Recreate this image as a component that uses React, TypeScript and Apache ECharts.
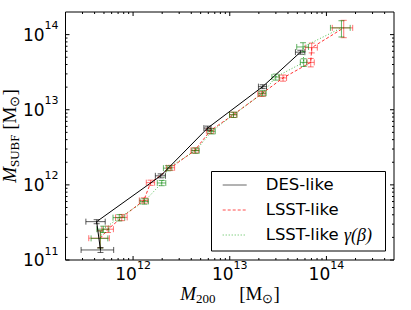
import React, { useEffect, useRef } from "react";
import * as echarts from "echarts";

// ---- data (masses in solar masses) ----
const desM200 = [4.6e11, 4.2e11, 1.93e12, 5.9e12, 2.19e13, 5.38e13];
const desM200Err = [1.7e11, 0.95e11, 0.23e12, 0.5e12, 0.21e13, 0.6e13];
const desMsubf = [1.36e11, 3.24e11, 1.32e12, 5.7e12, 2.03e13, 5.84e13];
const desMsubfErr = [0.1e11, 0.2e11, 0.08e12, 0.35e12, 0.12e13, 0.35e13];

const lsstM200 = [4.58e11, 5.51e11, 7.64e11, 1.29e12, 1.52e12, 2.45e12, 4.35e12, 6.28e12, 1.09e13, 2.14e13, 3.56e13, 6.88e13, 7.05e13, 1.51e14];
const lsstM200Err = [1.1e11, 0.75e11, 1.05e11, 0.13e12, 0.15e12, 0.24e12, 0.38e12, 0.55e12, 0.095e13, 0.19e13, 0.31e13, 0.6e13, 1.0e13, 0.36e14];
const lsstMsubf = [1.95e11, 2.57e11, 3.69e11, 6.21e11, 1.07e12, 1.69e12, 2.88e12, 5.25e12, 8.58e12, 1.63e13, 2.65e13, 4.27e13, 6.71e13, 1.23e14];
const lsstMsubfErr = [0.5e11, 0.25e11, 0.35e11, 0.5e11, 0.085e12, 0.13e12, 0.23e12, 0.42e12, 0.69e12, 0.13e13, 0.25e13, 0.55e13, 1.0e13, 0.32e14];

const gamM200 = [4.58e11, 4.92e11, 7.2e11, 1.31e12, 1.98e12, 2.29e12, 4.45e12, 6.51e12, 1.09e13, 2.19e13, 2.99e13, 5.82e13, 5.73e13, 1.43e14];
const gamM200Err = [0.9e11, 0.7e11, 1.0e11, 0.13e12, 0.2e12, 0.23e12, 0.39e12, 0.57e12, 0.095e13, 0.19e13, 0.26e13, 0.45e13, 0.8e13, 0.33e14];
const gamMsubf = [1.94e11, 2.57e11, 3.66e11, 6.03e11, 1.06e12, 1.67e12, 2.86e12, 5.17e12, 8.58e12, 1.66e13, 2.73e13, 4.27e13, 6.85e13, 1.23e14];
const gamMsubfErr = [0.5e11, 0.25e11, 0.35e11, 0.5e11, 0.085e12, 0.13e12, 0.23e12, 0.41e12, 0.69e12, 0.13e13, 0.25e13, 0.5e13, 0.95e13, 0.3e14];

const xRange = [2e11, 5e14];
const yRange = [1e11, 2e14];
const xMajorExp = [12, 13, 14];
const yMajorExp = [11, 12, 13, 14];

const legendNames = ["DES-like", "LSST-like", "LSST-like "];

const L = Math.log10;

function lineRows(xs: number[], ys: number[]) {
  return xs.map((x, i) => [L(x), L(ys[i])]);
}
function errRows(xs: number[], xe: number[], ys: number[], ye: number[]) {
  return xs.map((x, i) => [L(x), L(ys[i]), L(x - xe[i]), L(x + xe[i]), L(ys[i] - ye[i]), L(ys[i] + ye[i])]);
}
function minorTicks(lo: number, hi: number) {
  const out: number[] = [];
  for (let n = 10; n <= 15; n++) {
    for (let k = 2; k <= 9; k++) {
      const v = n + L(k);
      if (v > lo + 1e-9 && v < hi - 1e-9) out.push(v);
    }
  }
  return out;
}

const makeErrRender = (color: string, opacity: number) => (params: any, api: any) => {
  const x = api.value(0), y = api.value(1);
  const c = api.coord([x, y]);
  const l = api.coord([api.value(2), y]);
  const r = api.coord([api.value(3), y]);
  const b = api.coord([x, api.value(4)]);
  const t = api.coord([x, api.value(5)]);
  const cap = 3;
  const style = { stroke: color, lineWidth: 1, opacity };
  const seg = (x1: number, y1: number, x2: number, y2: number) => ({ type: "line", shape: { x1, y1, x2, y2 }, style });
  return {
    type: "group",
    children: [
      seg(l[0], c[1], r[0], c[1]),
      seg(l[0], c[1] - cap, l[0], c[1] + cap),
      seg(r[0], c[1] - cap, r[0], c[1] + cap),
      seg(c[0], b[1], c[0], t[1]),
      seg(c[0] - cap, b[1], c[0] + cap, b[1]),
      seg(c[0] - cap, t[1], c[0] + cap, t[1]),
    ],
  };
};

export default function App() {
  const ref = useRef<HTMLDivElement>(null);
  useEffect(() => {
    if (!ref.current) return;
    const chart = echarts.init(ref.current, null, { renderer: "svg" });
    const xMin = L(xRange[0]), xMax = L(xRange[1]);
    const yMin = L(yRange[0]), yMax = L(yRange[1]);

    const tickData: number[][] = [];
    xMajorExp.forEach((v) => tickData.push([v, yMin, 0, 4]));
    minorTicks(xMin, xMax).forEach((v) => tickData.push([v, yMin, 0, 2]));
    yMajorExp.forEach((v) => tickData.push([xMin, v, 1, 4]));
    minorTicks(yMin, yMax).forEach((v) => tickData.push([xMin, v, 1, 2]));

    const labelRich = {
      b: { fontFamily: "DejaVu Sans", fontSize: 17, lineHeight: 18, color: "#000" },
      p: { fontFamily: "DejaVu Sans", fontSize: 11, lineHeight: 12, color: "#000", padding: [0, 0, 18, 0] },
    };
    const fmt = (v: number) => `{b|10}{p|${Math.round(v)}}`;

    const titleRich = {
      i: { fontFamily: "Liberation Serif", fontStyle: "italic", fontSize: 19, lineHeight: 18, color: "#000" },
      n: { fontFamily: "Liberation Serif", fontSize: 19, lineHeight: 18, color: "#000" },
      s: { fontFamily: "Liberation Serif", fontSize: 13, lineHeight: 14, color: "#000", padding: [10, 0, 0, 0] },
    };

    const option: any = {
      animation: false,
      grid: { left: 65.5, top: 12, right: 17, bottom: 50, show: true, borderColor: "#000", borderWidth: 1, backgroundColor: "transparent" },
      xAxis: {
        type: "value", min: xMin, max: xMax,
        axisLine: { show: false }, axisTick: { show: false }, splitLine: { show: false },
        axisLabel: { customValues: xMajorExp, formatter: fmt, rich: labelRich, margin: 5 },
      },
      yAxis: {
        type: "value", min: yMin, max: yMax,
        axisLine: { show: false }, axisTick: { show: false }, splitLine: { show: false },
        axisLabel: { customValues: yMajorExp, formatter: fmt, rich: labelRich, margin: 7 },
      },
      series: [
        {
          type: "custom", name: "ticks", silent: true, data: tickData,
          renderItem: (params: any, api: any) => {
            const cs = params.coordSys;
            const kind = api.value(2), len = api.value(3);
            const style = { stroke: "#000", lineWidth: 1 };
            if (kind === 0) {
              const px = api.coord([api.value(0), yMin])[0];
              return { type: "group", children: [
                { type: "line", shape: { x1: px, y1: cs.y + cs.height, x2: px, y2: cs.y + cs.height - len }, style },
                { type: "line", shape: { x1: px, y1: cs.y, x2: px, y2: cs.y + len }, style },
              ] };
            }
            const py = api.coord([xMin, api.value(1)])[1];
            return { type: "group", children: [
              { type: "line", shape: { x1: cs.x, y1: py, x2: cs.x + len, y2: py }, style },
              { type: "line", shape: { x1: cs.x + cs.width, y1: py, x2: cs.x + cs.width - len, y2: py }, style },
            ] };
          },
        },
        { type: "custom", name: "LSST err", data: errRows(lsstM200, lsstM200Err, lsstMsubf, lsstMsubfErr), renderItem: makeErrRender("#ff0000", 0.55), z: 3 },
        { type: "line", name: legendNames[1], data: lineRows(lsstM200, lsstMsubf), symbol: "none", lineStyle: { color: "#ff0000", width: 1, type: [3, 2], opacity: 0.8 }, z: 4 },
        { type: "custom", name: "gamma err", data: errRows(gamM200, gamM200Err, gamMsubf, gamMsubfErr), renderItem: makeErrRender("#008000", 0.6), z: 5 },
        { type: "line", name: legendNames[2], data: lineRows(gamM200, gamMsubf), symbol: "none", lineStyle: { color: "#00a000", width: 1, type: [1, 2], opacity: 0.7 }, z: 6 },
        { type: "custom", name: "DES err", data: errRows(desM200, desM200Err, desMsubf, desMsubfErr), renderItem: makeErrRender("#000000", 0.65), z: 7 },
        { type: "line", name: legendNames[0], data: lineRows(desM200, desMsubf), symbol: "none", lineStyle: { color: "#000", width: 1 }, z: 8 },
      ],
      graphic: [
        { type: "rect", shape: { x: 211.5, y: 171.5, width: 174, height: 79.5 }, style: { fill: "#fff", stroke: "#000", lineWidth: 1 }, z: 100 },
        { type: "line", shape: { x1: 222.7, y1: 185, x2: 246.7, y2: 185 }, style: { stroke: "#000", lineWidth: 1, opacity: 0.6 }, z: 101 },
        { type: "line", shape: { x1: 222.7, y1: 210, x2: 246.7, y2: 210 }, style: { stroke: "#ff0000", lineWidth: 1, lineDash: [3, 2], opacity: 0.7 }, z: 101 },
        { type: "line", shape: { x1: 222.7, y1: 235, x2: 246.7, y2: 235 }, style: { stroke: "#00a000", lineWidth: 1, lineDash: [1, 2], opacity: 0.7 }, z: 101 },
        { type: "text", x: 265.7, y: 184.5, z: 101, style: { text: legendNames[0], fontFamily: "DejaVu Sans", fontSize: 16.5, fill: "#000", align: "left", verticalAlign: "middle" } },
        { type: "text", x: 265.7, y: 209.5, z: 101, style: { text: legendNames[1], fontFamily: "DejaVu Sans", fontSize: 16.5, fill: "#000", align: "left", verticalAlign: "middle" } },
        { type: "text", x: 265.7, y: 234.5, z: 101, style: {
          text: `{a|${legendNames[2]}}{m|γ(β)}`, align: "left", verticalAlign: "middle",
          rich: {
            a: { fontFamily: "DejaVu Sans", fontSize: 16.5, color: "#000" },
            m: { fontFamily: "Liberation Serif", fontStyle: "italic", fontSize: 18, color: "#000" },
          },
        } },
        { type: "text", x: 230, y: 293, z: 101, style: {
          text: "{i|M}{s|200}{n|     [M}{s|⊙}{n|]}", rich: titleRich, align: "center", verticalAlign: "middle",
        } },
        { type: "text", x: 9, y: 136, rotation: Math.PI / 2, z: 101, style: {
          text: "{i|M}{s|SUBF}{n| [M}{s|⊙}{n|]}", rich: titleRich, align: "center", verticalAlign: "middle",
        } },
      ],
    };
    chart.setOption(option);
    return () => chart.dispose();
  }, []);
  return <div ref={ref} style={{ position: "fixed", left: 0, top: 0, width: 411, height: 310, background: "#fff" }} />;
}
